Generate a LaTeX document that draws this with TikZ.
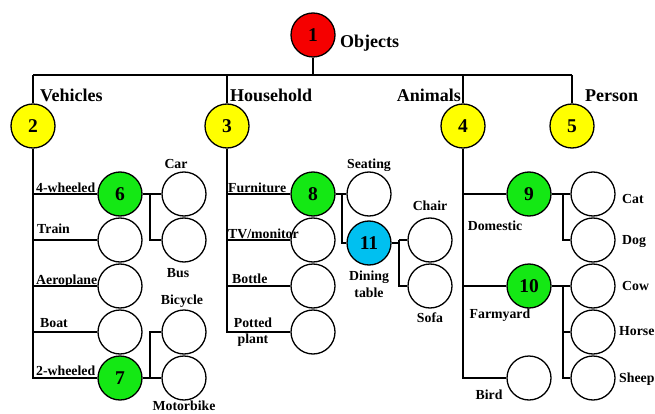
\documentclass[tikz,border=0pt]{standalone}
\usepackage{fontspec}
\setmainfont{Liberation Serif}
\definecolor{cred}{RGB}{245,0,0}
\definecolor{cyel}{RGB}{255,255,0}
\definecolor{cgreen}{RGB}{20,232,20}
\definecolor{cblue}{RGB}{0,192,240}
\tikzset{
  circ/.style={circle,draw=black,line width=1.3pt,minimum size=44pt,inner sep=0pt,fill=white,font=\fontsize{19.5}{21}\selectfont\bfseries},
  lbl/.style={font=\fontsize{13.8}{15}\selectfont\bfseries,inner sep=0pt},
  big/.style={font=\fontsize{18}{19}\selectfont\bfseries,inner sep=0pt},
  conn/.style={line width=1.3pt}
}
\begin{document}
\begin{tikzpicture}[x=1pt,y=-1pt]
\useasboundingbox (0,0) rectangle (655,414);
% top level
\node[circ,fill=cred] (n1) at (313,35) {1};
\node[circ,fill=cyel] (n2) at (33,126) {2};
\node[circ,fill=cyel] (n3) at (227,126) {3};
\node[circ,fill=cyel] (n4) at (463,126) {4};
\node[circ,fill=cyel] (n5) at (572,126) {5};
\coordinate (bl) at (33,75);
\coordinate (bm) at (313,75);
\coordinate (br) at (572,75);
\coordinate (b3) at (227,75);
\coordinate (b4) at (463,75);
\draw[conn] (bl) -- (br);
\draw[conn] (n1.south) -- (bm);
\draw[conn] (bl) -- (n2.north);
\draw[conn] (b3) -- (n3.north);
\draw[conn] (b4) -- (n4.north);
\draw[conn] (br) -- (n5.north);
\node[big,anchor=base west] (tobj) at (340,48) {Objects};
\node[big,anchor=base west] (tveh) at (40,102) {Vehicles};
\node[big,anchor=base west] (thou) at (230,102) {Household};
\node[big,anchor=base east] (tani) at (461,102) {Animals};
\node[big,anchor=base west] (tper) at (585,102) {Person};
% vehicles
\node[circ,fill=cgreen] (n6) at (120,194) {6};
\node[circ] (train) at (120,240) {};
\node[circ] (aero) at (120,286) {};
\node[circ] (boat) at (120,332) {};
\node[circ,fill=cgreen] (n7) at (120,378) {7};
\node[circ] (car) at (184,194) {};
\node[circ] (bus) at (184,240) {};
\node[circ] (bicy) at (184,332) {};
\node[circ] (moto) at (184,378) {};
\coordinate (v7) at (33,378);
\draw[conn] (n2.south) -- (v7) -- (n7.west);
\draw[conn] (n6.west) -- (n6.west -| v7);
\draw[conn] (train.west) -- (train.west -| v7);
\draw[conn] (aero.west) -- (aero.west -| v7);
\draw[conn] (boat.west) -- (boat.west -| v7);
\coordinate (j6) at (150,194);
\coordinate (j7) at (150,378);
\draw[conn] (n6.east) -- (car.west);
\draw[conn] (j6) -- (j6 |- bus.west) -- (bus.west);
\draw[conn] (n7.east) -- (moto.west);
\draw[conn] (j7) -- (j7 |- bicy.west) -- (bicy.west);
\node[lbl,anchor=base west] (l6) at (36,192) {4-wheeled};
\node[lbl,anchor=base west] (ltr) at (37,233) {Train};
\node[lbl,anchor=base west] (lae) at (36,284) {Aeroplane};
\node[lbl,anchor=base west] (lbo) at (40,327) {Boat};
\node[lbl,anchor=base west] (l7) at (36,375) {2-wheeled};
\node[lbl,anchor=base] (lcar) at (176,168) {Car};
\node[lbl,anchor=base] (lbus) at (178,277) {Bus};
\node[lbl,anchor=base] (lbic) at (182,304) {Bicycle};
\node[lbl,anchor=base] (lmot) at (184,410) {Motorbike};
% household
\node[circ,fill=cgreen] (n8) at (313,194) {8};
\node[circ] (tv) at (313,240) {};
\node[circ] (bott) at (313,286) {};
\node[circ] (pot) at (313,332) {};
\node[circ] (seat) at (369,194) {};
\node[circ,fill=cblue] (n11) at (369,243) {11};
\node[circ] (chair) at (430,240) {};
\node[circ] (sofa) at (430,286) {};
\coordinate (vh) at (227,332);
\draw[conn] (n3.south) -- (vh) -- (pot.west);
\draw[conn] (n8.west) -- (n8.west -| vh);
\draw[conn] (tv.west) -- (tv.west -| vh);
\draw[conn] (bott.west) -- (bott.west -| vh);
\coordinate (j8) at (342,194);
\draw[conn] (n8.east) -- (seat.west);
\draw[conn] (j8) -- (j8 |- n11.west) -- (n11.west);
\coordinate (j11) at (399,243);
\draw[conn] (n11.east) -- (j11);
\draw[conn] (j11 |- chair.west) -- (chair.west);
\draw[conn] (j11 |- chair.west) -- (j11 |- sofa.west) -- (sofa.west);
\node[lbl,anchor=base west] (lfur) at (228,192) {Furniture};
\node[lbl,anchor=base west] (ltv) at (228,238) {TV/monitor};
\node[lbl,anchor=base west] (lbot) at (232,283) {Bottle};
\node[lbl,anchor=base] (lpot) at (253,327) {Potted};
\node[lbl,anchor=base] (lpla) at (253,343) {plant};
\node[lbl,anchor=base] (lsea) at (369,168) {Seating};
\node[lbl,anchor=base] (ldin) at (369,280) {Dining};
\node[lbl,anchor=base] (ltab) at (369,297) {table};
\node[lbl,anchor=base] (lcha) at (430,210) {Chair};
\node[lbl,anchor=base] (lsof) at (430,322) {Sofa};
% animals
\node[circ,fill=cgreen] (n9) at (529,194) {9};
\node[circ,fill=cgreen] (n10) at (529,286) {10};
\node[circ] (bird) at (529,378) {};
\node[circ] (cat) at (593,194) {};
\node[circ] (dog) at (593,240) {};
\node[circ] (cow) at (593,286) {};
\node[circ] (horse) at (593,332) {};
\node[circ] (sheep) at (593,378) {};
\coordinate (va) at (463,378);
\draw[conn] (n4.south) -- (va) -- (bird.west);
\draw[conn] (n9.west) -- (n9.west -| va);
\draw[conn] (n10.west) -- (n10.west -| va);
\coordinate (j9) at (563,194);
\coordinate (j10) at (563,286);
\draw[conn] (n9.east) -- (cat.west);
\draw[conn] (j9) -- (j9 |- dog.west) -- (dog.west);
\draw[conn] (n10.east) -- (cow.west);
\draw[conn] (j10) -- (j10 |- sheep.west) -- (sheep.west);
\draw[conn] (j10 |- horse.west) -- (horse.west);
\node[lbl,anchor=base] (ldom) at (495,230) {Domestic};
\node[lbl,anchor=base] (lfar) at (500,318) {Farmyard};
\node[lbl,anchor=base] (lbir) at (489,399) {Bird};
\node[lbl,anchor=base west] (lcat) at (622,203) {Cat};
\node[lbl,anchor=base west] (ldog) at (622,244) {Dog};
\node[lbl,anchor=base west] (lcow) at (622,290) {Cow};
\node[lbl,anchor=base west] (lhor) at (619,335) {Horse};
\node[lbl,anchor=base west] (lshe) at (619,382) {Sheep};
\end{tikzpicture}
\end{document}
